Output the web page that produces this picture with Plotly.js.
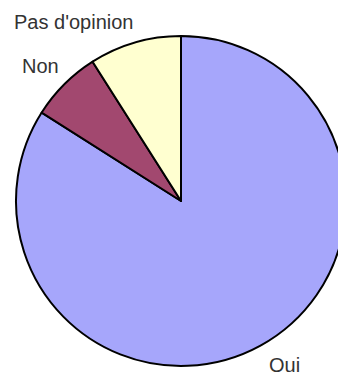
<!DOCTYPE html>
<html>
<head>
<meta charset="utf-8">
<script src="https://cdn.plot.ly/plotly-3.0.1.min.js"></script>
<style>
html,body{margin:0;padding:0;overflow:hidden;background:#fff;}
#chart{width:350px;height:379px;}
</style>
</head>
<body>
<div id="chart"></div>
<script>
const labels = ["Oui", "Non", "Pas d'opinion"];
const values = [84, 7, 9];
const colors = ["#a6a6fb", "#a2486f", "#ffffd0"];
const labelPos = [[267, 365], [20, 66], [12, 22]];

const W = 350, H = 379;
const annotations = labels.map((t, i) => ({
  text: t, xref: "paper", yref: "paper",
  x: labelPos[i][0] / W, y: 1 - labelPos[i][1] / H,
  xanchor: "left", yanchor: "middle", showarrow: false,
  font: {family: "Liberation Sans, Arial, sans-serif", size: 20, color: "#333333"}
}));

Plotly.newPlot("chart", [{
  type: "pie",
  labels: labels,
  values: values,
  sort: false,
  direction: "clockwise",
  rotation: 0,
  textinfo: "none",
  hoverinfo: "label+percent",
  marker: {colors: colors, line: {color: "#000000", width: 2}},
  domain: {x: [16 / W, 346 / W], y: [(H - 366) / H, (H - 36) / H]}
}], {
  width: W, height: H,
  margin: {l: 0, r: 0, t: 0, b: 0},
  showlegend: false,
  paper_bgcolor: "#ffffff",
  annotations: annotations
}, {displayModeBar: false, staticPlot: true});
</script>
</body>
</html>
